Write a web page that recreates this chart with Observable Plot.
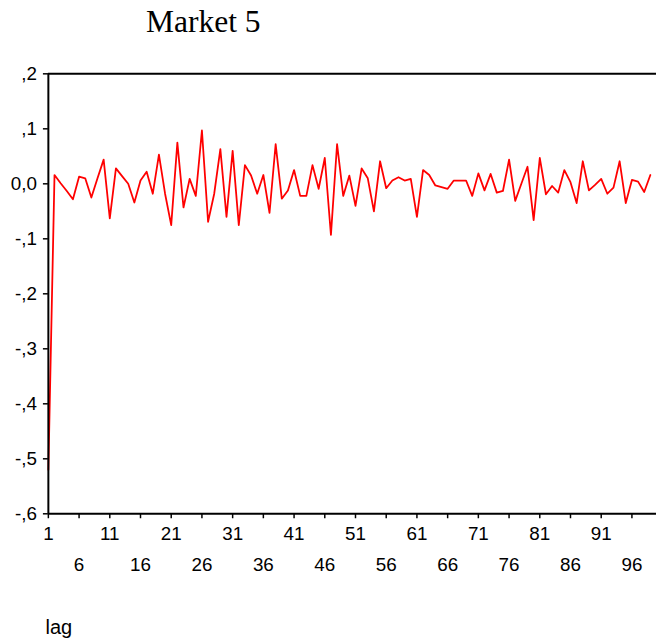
<!DOCTYPE html>
<html><head><meta charset="utf-8">
<script src="https://cdn.jsdelivr.net/npm/d3@7"></script>
<script src="https://cdn.jsdelivr.net/npm/@observablehq/plot@0.6"></script>
<style>
html,body{margin:0;padding:0;background:#fff;overflow:hidden;width:656px;height:644px}
#wrap{position:relative;width:656px;height:644px;overflow:hidden}
#chart{position:absolute;left:0;top:0}
#title{position:absolute;left:146px;top:5.8px;font-family:"Liberation Serif","Times New Roman",serif;font-size:31.5px;line-height:31.5px;color:#000;white-space:nowrap}
#lag{position:absolute;left:45.5px;top:617px;font-family:"Liberation Sans",Arial,sans-serif;font-size:20px;line-height:20px;color:#000}
</style>
</head><body>
<div id="wrap">
<div id="chart"></div>
<div id="title">Market 5</div>
<div id="lag">lag</div>
</div>
<script>
const lags = d3.range(1, 100);
const values = [
 -0.52, 0.016, 0.001, -0.013, -0.028, 0.013, 0.010, -0.025, 0.010, 0.044,
 -0.063, 0.028, 0.014, 0.000, -0.034, 0.006, 0.022, -0.018, 0.053, -0.018,
 -0.075, 0.075, -0.043, 0.009, -0.022, 0.097, -0.069, -0.018, 0.063, -0.060,
 0.060, -0.075, 0.034, 0.015, -0.018, 0.016, -0.053, 0.072, -0.027, -0.012,
 0.025, -0.022, -0.022, 0.034, -0.009, 0.047, -0.093, 0.072, -0.022, 0.015,
 -0.040, 0.028, 0.010, -0.050, 0.041, -0.008, 0.006, 0.012, 0.006, 0.009,
 -0.060, 0.025, 0.016, -0.003, -0.006, -0.009, 0.006, 0.006, 0.006, -0.022,
 0.019, -0.012, 0.018, -0.016, -0.013, 0.044, -0.031, 0.000, 0.031, -0.066,
 0.047, -0.019, -0.004, -0.016, 0.025, 0.003, -0.035, 0.041, -0.012, -0.002,
 0.009, -0.018, -0.007, 0.041, -0.035, 0.007, 0.004, -0.015, 0.016
];
const xTicksRow1 = [1, 11, 21, 31, 41, 51, 61, 71, 81, 91];
const xTicksRow2 = [6, 16, 26, 36, 46, 56, 66, 76, 86, 96];
const yTicks = [0.2, 0.1, 0, -0.1, -0.2, -0.3, -0.4, -0.5, -0.6];

const data = lags.map((l, i) => ({lag: l, v: values[i]}));
const fmt = d => {
  if (Math.abs(d) < 1e-9) return "0,0";
  return (d < 0 ? "-" : "") + Math.abs(d).toFixed(1).replace("0.", ",");
};

const chart = Plot.plot({
  width: 662,
  height: 644,
  marginLeft: 48.3,
  marginRight: 0,
  marginTop: 74,
  marginBottom: 126,
  style: {fontFamily: "'Liberation Sans', Arial, sans-serif", fontSize: "19px", background: "#fff", color: "#000"},
  x: {domain: [1, 100]},
  y: {domain: [-0.6, 0.2]},
  marks: [
    Plot.line(data, {x: "lag", y: "v", stroke: "#ff0000", strokeWidth: 1.8}),
    Plot.axisY(yTicks, {tickSize: 5, tickPadding: 6.5, tickFormat: fmt, fontSize: 19, strokeWidth: 1.5, stroke: "#000", fill: "#000", label: null}),
    Plot.axisX(xTicksRow1, {tickSize: 5, tickPadding: 7.5, tickFormat: d => String(d), fontSize: 19, strokeWidth: 1.5, stroke: "#000", fill: "#000", label: null}),
    Plot.axisX(xTicksRow2, {tickSize: 5, tickPadding: 39, tickFormat: d => String(d), fontSize: 19, strokeWidth: 1.5, stroke: "#000", fill: "#000", label: null}),
    Plot.ruleY([0.2], {stroke: "#000", strokeWidth: 2}),
    Plot.ruleY([-0.6], {stroke: "#000", strokeWidth: 2}),
    Plot.ruleX([1], {stroke: "#000", strokeWidth: 2})
  ]
});
document.getElementById("chart").appendChild(chart);
</script>
</body></html>
